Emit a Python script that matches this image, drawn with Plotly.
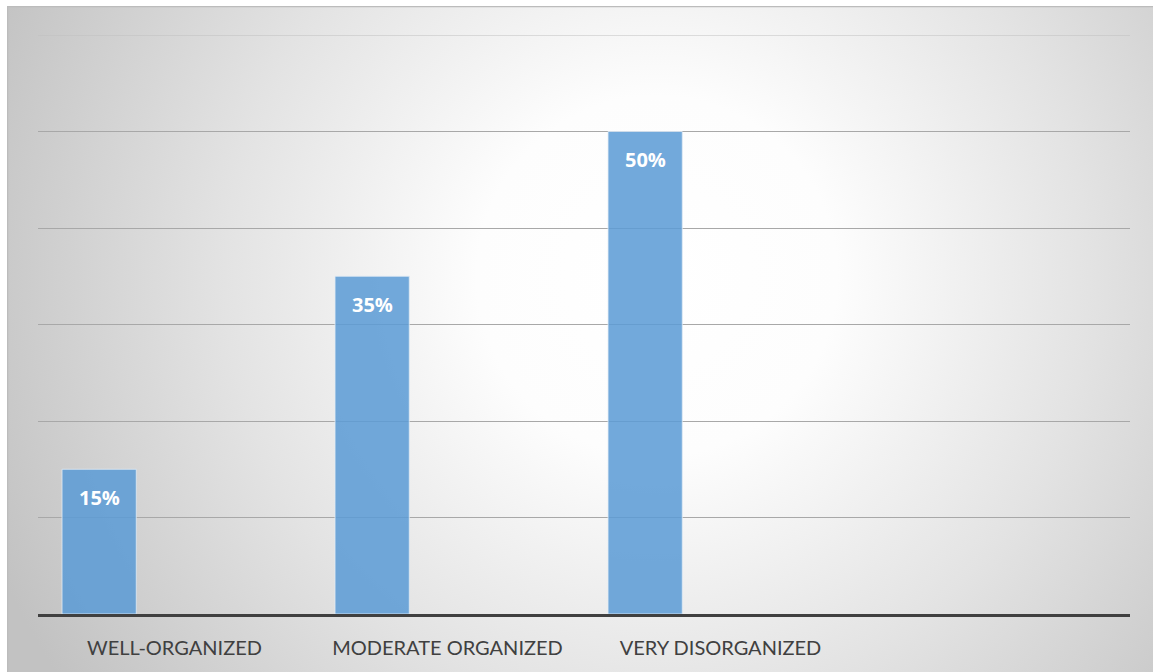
import base64
import plotly.graph_objects as go

# Survey result: share of respondents per organisation level
categories = ["WELL-ORGANIZED", "MODERATE ORGANIZED", "VERY DISORGANIZED", ""]
values = [15, 35, 50, None]
value_labels = ["15%", "35%", "50%"]
y_ticks = [0, 10, 20, 30, 40, 50, 60]

W, H = 1153, 672
L, R, T, B = 38, 23, 35, 58
plot_w, plot_h = W - L - R, H - T - B

# Chart-area background: radial grey-to-white fill with a thin frame
box_x0, box_y0 = 7, 6
box_w, box_h = W - box_x0, H - box_y0
svg = f"""<svg xmlns='http://www.w3.org/2000/svg' width='{box_w}' height='{box_h}' viewBox='0 0 {box_w} {box_h}'>
<defs><radialGradient id='g' gradientUnits='userSpaceOnUse' cx='650' cy='270' r='720'>
<stop offset='0' stop-color='#ffffff'/>
<stop offset='0.25' stop-color='#fdfdfd'/>
<stop offset='0.6' stop-color='#e3e3e3'/>
<stop offset='1' stop-color='#c2c2c2'/>
</radialGradient></defs>
<rect x='0' y='0' width='{box_w}' height='{box_h}' fill='url(#g)'/>
<line x1='0' y1='0.5' x2='{box_w}' y2='0.5' stroke='#bcbcbc' stroke-width='1.5'/>
<line x1='0.5' y1='0' x2='0.5' y2='{box_h}' stroke='#bcbcbc' stroke-width='1.5'/>
</svg>"""
bg_src = "data:image/svg+xml;base64," + base64.b64encode(svg.encode()).decode()

xs = list(range(len(categories)))
bar_x = [x for x, v in zip(xs, values) if v is not None]
bar_y = [v for v in values if v is not None]

fig = go.Figure()
fig.add_trace(go.Bar(
    x=bar_x, y=bar_y,
    width=0.272, offset=-0.412,
    marker=dict(color="rgba(91,155,213,0.86)",
                line=dict(color="rgba(225,235,245,0.8)", width=1)),
    hoverinfo="skip",
))

for x, v, t in zip(bar_x, bar_y, value_labels):
    fig.add_annotation(
        x=x - 0.412 + 0.136, y=v, text=f"<b>{t}</b>", showarrow=False,
        yshift=-28, font=dict(family="Open Sans", size=20, color="white"),
    )

# Top gridline at the end of the value range
fig.add_shape(type="line", xref="paper", yref="y", x0=0, x1=1,
              y0=y_ticks[-1], y1=y_ticks[-1], layer="below",
              line=dict(color="#c0c0c0", width=1))

fig.add_layout_image(
    source=bg_src, xref="paper", yref="paper",
    x=(box_x0 - L) / plot_w, y=(H - B - box_y0) / plot_h,
    sizex=box_w / plot_w, sizey=box_h / plot_h,
    xanchor="left", yanchor="top", sizing="stretch", layer="below",
)

fig.update_layout(
    width=W, height=H,
    margin=dict(l=L, r=R, t=T, b=B, pad=0),
    paper_bgcolor="white", plot_bgcolor="rgba(0,0,0,0)",
    showlegend=False,
    xaxis=dict(
        range=[-0.5, len(categories) - 0.5],
        tickvals=xs, ticktext=categories, ticks="",
        showgrid=False, zeroline=False,
        showline=True, linecolor="#404040", linewidth=3,
        tickfont=dict(family="Lato", size=20, color="#404040"),
        ticklabelstandoff=14, fixedrange=True,
    ),
    yaxis=dict(
        range=[0, 60], tickvals=y_ticks, showticklabels=False,
        showgrid=True, gridcolor="#a8a8a8", gridwidth=1,
        zeroline=False, fixedrange=True,
    ),
)

fig.write_html("out.html", config={"displayModeBar": False})
